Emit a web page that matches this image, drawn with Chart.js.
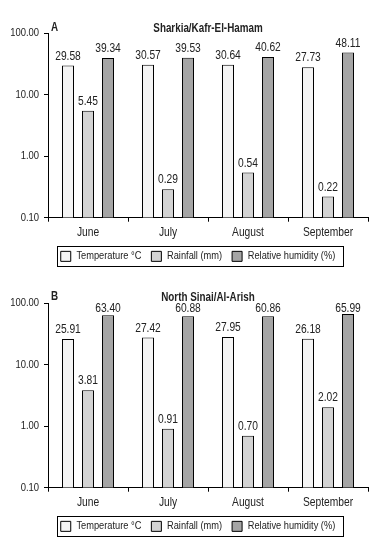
<!DOCTYPE html>
<html><head><meta charset="utf-8">
<script src="https://cdn.jsdelivr.net/npm/chart.js@4/dist/chart.umd.min.js"></script>
<style>
html,body{margin:0;padding:0;background:#fff;}
#wrap{position:relative;width:377px;height:544px;overflow:hidden;}
canvas{position:absolute;left:0;}
</style></head>
<body><div id="wrap">
<canvas id="cA" width="377" height="270" style="top:0"></canvas>
<canvas id="cB" width="377" height="274" style="top:270px"></canvas>
</div>
<script>
const categories = ['June', 'July', 'August', 'September'];
const seriesNames = ['Temperature °C', 'Rainfall (mm)', 'Relative humidity (%)'];
const sharkiaTemp = [29.58, 30.57, 30.64, 27.73];
const sharkiaRain = [5.45, 0.29, 0.54, 0.22];
const sharkiaHum = [39.34, 39.53, 40.62, 48.11];
const sinaiTemp = [25.91, 27.42, 27.95, 26.18];
const sinaiRain = [3.81, 0.91, 0.70, 2.02];
const sinaiHum = [63.40, 60.88, 60.86, 65.99];
const yTicks = [0.1, 1, 10, 100];

const FONT = '"Liberation Sans", Arial, sans-serif';
const fills = ['#f4f4f4', '#d3d3d3', '#a5a5a5'];
const TXT = '#222';
const SX = 0.82; // horizontal text condensing (narrow typeface look)

function condense(ctx) {
  const mt = ctx.measureText.bind(ctx);
  const ft = ctx.fillText.bind(ctx);
  ctx.measureText = function (t) {
    const m = mt(t);
    return {
      width: m.width * SX,
      actualBoundingBoxAscent: m.actualBoundingBoxAscent,
      actualBoundingBoxDescent: m.actualBoundingBoxDescent,
      actualBoundingBoxLeft: m.actualBoundingBoxLeft * SX,
      actualBoundingBoxRight: m.actualBoundingBoxRight * SX
    };
  };
  ctx.fillText = function (t, x, y, maxW) {
    ctx.save();
    ctx.translate(x, y);
    ctx.scale(SX, 1);
    if (maxW !== undefined && maxW !== null) ft(t, 0, 0, maxW / SX); else ft(t, 0, 0);
    ctx.restore();
  };
  return ctx;
}

const valueLabels = {
  id: 'valueLabels',
  afterDatasetsDraw(chart) {
    const ctx = chart.ctx, ca = chart.chartArea;
    ctx.save();
    ctx.font = '12.5px ' + FONT;
    ctx.fillStyle = TXT;
    ctx.textAlign = 'center';
    ctx.textBaseline = 'alphabetic';
    chart.data.datasets.forEach((ds, i) => {
      chart.getDatasetMeta(i).data.forEach((el, j) => {
        const y = Math.max(el.y - 6, ca.top + 9);
        ctx.fillText(ds.data[j].toFixed(2), el.x, y);
      });
    });
    ctx.restore();
  }
};

const LEGEND_SHIFT = 14;
const legendBox = {
  id: 'legendBox',
  afterLayout(chart) {
    const lg = chart.legend;
    if (!lg) return;
    lg.left += LEGEND_SHIFT;
    lg.right += LEGEND_SHIFT;
    (lg.legendHitBoxes || []).forEach(h => { h.left += LEGEND_SHIFT; });
  },
  afterDraw(chart) {
    const lg = chart.legend;
    if (!lg || !lg.legendHitBoxes || !lg.legendHitBoxes.length) return;
    const hb = lg.legendHitBoxes;
    let l = Infinity, r = -Infinity, t = Infinity, b = -Infinity;
    hb.forEach(h => { l = Math.min(l, h.left); r = Math.max(r, h.left + h.width); t = Math.min(t, h.top); b = Math.max(b, h.top + h.height); });
    const ctx = chart.ctx;
    const cy = (t + b) / 2;
    ctx.save();
    ctx.strokeStyle = '#000';
    ctx.lineWidth = 1;
    ctx.strokeRect(Math.round(l - 4) + 0.5, Math.round(cy - 10) + 0.5, Math.round(r - l + 11), 20);
    ctx.restore();
  }
};

function titlePlugin(letter, title, ty) {
  return {
    id: 'panelTitle',
    afterDraw(chart) {
      const ctx = chart.ctx, ca = chart.chartArea;
      ctx.save();
      ctx.fillStyle = TXT;
      ctx.font = 'bold 12px ' + FONT;
      ctx.textBaseline = 'middle';
      ctx.textAlign = 'left';
      ctx.fillText(letter, ca.left + 3, ty - 1);
      ctx.textAlign = 'center';
      ctx.fillText(title, (ca.left + ca.right) / 2, ty);
      ctx.restore();
    }
  };
}

function makeChart(id, temp, rain, hum, letter, title, ty, padBottom) {
  const data = {
    labels: categories,
    datasets: [temp, rain, hum].map((d, i) => ({
      label: seriesNames[i],
      data: d,
      backgroundColor: fills[i],
      borderColor: '#000',
      borderWidth: 1,
      categoryPercentage: 0.75,
      barPercentage: 0.6
    }))
  };
  const ctx = condense(document.getElementById(id).getContext('2d'));
  return new Chart(ctx, {
    type: 'bar',
    data,
    options: {
      responsive: false,
      animation: false,
      devicePixelRatio: 1,
      layout: { padding: { left: 0, right: 9, top: 33, bottom: padBottom } },
      plugins: {
        legend: {
          display: true,
          position: 'bottom',
          labels: {
            boxWidth: 10, boxHeight: 10, padding: 10,
            color: TXT,
            font: { family: FONT, size: 11.3 },
            generateLabels(chart) {
              return chart.data.datasets.map((ds, i) => ({
                text: ds.label, fillStyle: ds.backgroundColor, strokeStyle: '#000', lineWidth: 1, datasetIndex: i, hidden: false, fontColor: TXT
              }));
            }
          }
        },
        title: { display: false },
        tooltip: { enabled: false }
      },
      scales: {
        x: {
          offset: true,
          grid: { display: true, offset: true, drawOnChartArea: false, drawTicks: true, tickLength: 4, color: '#000' },
          border: { display: true, color: '#000', width: 1 },
          ticks: { color: TXT, font: { family: FONT, size: 12.5 }, padding: 3 },
          afterFit(s) { s.height = 23; }
        },
        y: {
          type: 'logarithmic',
          min: 0.1, max: 100,
          afterBuildTicks(s) { s.ticks = yTicks.map(v => ({ value: v })); },
          grid: { display: true, drawOnChartArea: false, drawTicks: true, tickLength: 4, color: '#000' },
          border: { display: true, color: '#000', width: 1 },
          ticks: { color: TXT, font: { family: FONT, size: 11.5 }, padding: 5, callback: v => Number(v).toFixed(2) },
          afterFit(s) { s.width = 48; }
        }
      }
    },
    plugins: [valueLabels, legendBox, titlePlugin(letter, title, ty)]
  });
}

makeChart('cA', sharkiaTemp, sharkiaRain, sharkiaHum, 'A', 'Sharkia/Kafr-El-Hamam', 29, -2);
makeChart('cB', sinaiTemp, sinaiRain, sinaiHum, 'B', 'North Sinai/Al-Arish', 28, 2);
</script>
</body></html>
